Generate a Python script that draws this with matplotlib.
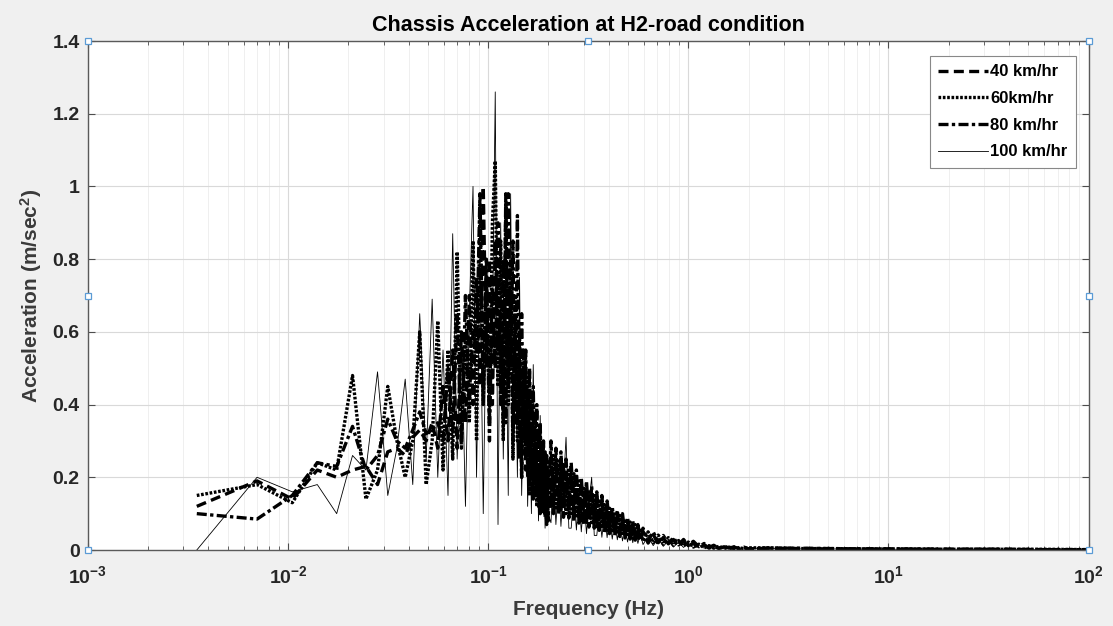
import numpy as np
import matplotlib
matplotlib.use("Agg")
import matplotlib.pyplot as plt

# frequency bins (Hz)
freq_low = [0.0035, 0.007, 0.0105, 0.014, 0.0175, 0.021, 0.0245, 0.028, 0.0315, 0.035,
            0.0385, 0.042, 0.0455, 0.049]
freq_mid = [0.0525, 0.056, 0.0595, 0.063, 0.0665, 0.07, 0.0735, 0.077, 0.0805, 0.084,
            0.0875, 0.091, 0.0945, 0.098, 0.1015, 0.105, 0.1085, 0.112, 0.1155, 0.119,
            0.1225, 0.126, 0.1295, 0.133, 0.1365, 0.14, 0.1435, 0.147, 0.1505, 0.154,
            0.1575, 0.161, 0.1645, 0.168, 0.1715, 0.175, 0.1785, 0.182, 0.1855, 0.189,
            0.1925, 0.196, 0.1995]
freq_high = [0.206, 0.212, 0.218, 0.225, 0.231, 0.238, 0.245, 0.253, 0.26, 0.268,
             0.276, 0.284, 0.292, 0.301, 0.31, 0.319, 0.329, 0.339, 0.349, 0.359,
             0.37, 0.381, 0.393, 0.404, 0.417, 0.429, 0.442, 0.455, 0.469, 0.483,
             0.497, 0.512, 0.528, 0.543, 0.56, 0.576, 0.594,
             0.63, 0.668, 0.708, 0.75, 0.795, 0.843, 0.894, 0.947, 1.0, 1.06,
             1.13, 1.2, 1.27, 1.34, 1.42, 1.51, 1.6, 1.7, 1.8, 1.9, 2.0]
freq_tail = [2.5, 3.5, 5, 8, 12, 20, 35, 60, 100]
freq = freq_low + freq_mid + freq_high + freq_tail

# acceleration (m/sec^2)
acc_40 = ([0.12, 0.19, 0.14, 0.22, 0.20, 0.22, 0.23, 0.18, 0.27, 0.28, 0.26, 0.31, 0.33, 0.30]
          + [0.35, 0.28, 0.45, 0.30, 0.55, 0.28, 0.60, 0.35, 0.70, 0.40, 0.75, 0.45, 1.00, 0.50,
             0.80, 0.40, 0.85, 0.55, 0.65, 0.35, 0.98, 0.45, 0.70, 0.30, 0.62, 0.35, 0.55, 0.20,
             0.50, 0.22, 0.44, 0.18, 0.40, 0.14, 0.36, 0.16, 0.30, 0.10, 0.28, 0.12, 0.24, 0.07, 0.22]
          + [0.255, 0.10, 0.24, 0.095, 0.23, 0.09, 0.21, 0.088, 0.20, 0.08, 0.19, 0.074, 0.17,
             0.066, 0.16, 0.063, 0.15, 0.06, 0.135, 0.054, 0.13, 0.049, 0.115, 0.045, 0.10, 0.04,
             0.094, 0.037, 0.085, 0.033, 0.077, 0.03, 0.068, 0.027, 0.06, 0.023, 0.051,
             0.019, 0.043, 0.016, 0.034, 0.013, 0.029, 0.011, 0.025, 0.009, 0.02, 0.007, 0.015,
             0.005, 0.011, 0.004, 0.009, 0.003, 0.008, 0.003, 0.007, 0.003]
          + [0.005, 0.004, 0.003, 0.003, 0.002, 0.002, 0.002, 0.001, 0.001])
acc_60 = ([0.15, 0.18, 0.13, 0.24, 0.22, 0.48, 0.14, 0.22, 0.45, 0.30, 0.20, 0.30, 0.60, 0.18]
          + [0.30, 0.63, 0.22, 0.55, 0.25, 0.82, 0.30, 0.60, 0.35, 0.85, 0.30, 0.95, 0.40, 0.75,
             0.35, 0.90, 1.07, 0.45, 0.85, 0.30, 0.95, 0.40, 0.80, 0.25, 0.70, 0.30, 0.60, 0.20,
             0.55, 0.25, 0.48, 0.15, 0.42, 0.20, 0.38, 0.12, 0.33, 0.15, 0.30, 0.10, 0.27, 0.08, 0.24]
          + [0.12, 0.26, 0.11, 0.245, 0.11, 0.235, 0.10, 0.225, 0.095, 0.21, 0.088, 0.19, 0.08,
             0.17, 0.076, 0.16, 0.07, 0.155, 0.064, 0.14, 0.06, 0.125, 0.054, 0.115, 0.048, 0.105,
             0.044, 0.095, 0.04, 0.085, 0.036, 0.077, 0.032, 0.07, 0.028, 0.06, 0.024,
             0.05, 0.02, 0.041, 0.016, 0.034, 0.013, 0.026, 0.011, 0.022, 0.008, 0.016, 0.006,
             0.012, 0.005, 0.01, 0.004, 0.008, 0.003, 0.007, 0.003, 0.006]
          + [0.006, 0.004, 0.004, 0.003, 0.003, 0.002, 0.002, 0.002, 0.001])
acc_80 = ([0.10, 0.085, 0.15, 0.24, 0.23, 0.34, 0.22, 0.26, 0.36, 0.30, 0.28, 0.33, 0.38, 0.32]
          + [0.33, 0.35, 0.30, 0.50, 0.32, 0.65, 0.28, 0.70, 0.40, 0.60, 0.55, 0.98, 0.45, 0.80,
             0.30, 0.75, 0.50, 0.90, 0.40, 0.80, 0.35, 0.98, 0.50, 0.85, 0.35, 0.92, 0.25, 0.65,
             0.30, 0.55, 0.20, 0.50, 0.18, 0.45, 0.15, 0.40, 0.12, 0.35, 0.10, 0.30, 0.09, 0.26, 0.08]
          + [0.30, 0.13, 0.28, 0.12, 0.27, 0.115, 0.25, 0.11, 0.24, 0.10, 0.22, 0.095, 0.20,
             0.085, 0.19, 0.08, 0.175, 0.075, 0.16, 0.07, 0.15, 0.063, 0.135, 0.058, 0.12, 0.052,
             0.11, 0.047, 0.10, 0.043, 0.09, 0.038, 0.08, 0.035, 0.07, 0.03, 0.06,
             0.025, 0.05, 0.02, 0.04, 0.017, 0.034, 0.014, 0.029, 0.012, 0.024, 0.009, 0.018,
             0.007, 0.013, 0.005, 0.011, 0.005, 0.009, 0.004, 0.008, 0.003]
          + [0.005, 0.005, 0.004, 0.003, 0.003, 0.002, 0.002, 0.001, 0.001])
acc_100 = ([0.00, 0.20, 0.16, 0.18, 0.10, 0.26, 0.22, 0.49, 0.15, 0.28, 0.47, 0.18, 0.65, 0.25]
           + [0.69, 0.20, 0.55, 0.15, 0.87, 0.25, 0.60, 0.12, 0.65, 1.00, 0.20, 0.80, 0.10, 0.70,
              0.35, 0.60, 1.26, 0.07, 0.90, 0.25, 0.70, 0.15, 0.98, 0.30, 0.60, 0.20, 0.75, 0.15,
              0.45, 0.54, 0.12, 0.40, 0.10, 0.51, 0.15, 0.30, 0.08, 0.37, 0.12, 0.25, 0.06, 0.22, 0.10]
           + [0.075, 0.22, 0.07, 0.19, 0.065, 0.18, 0.31, 0.06, 0.06, 0.16, 0.055, 0.15, 0.05,
              0.14, 0.045, 0.13, 0.20, 0.04, 0.04, 0.11, 0.035, 0.10, 0.034, 0.09, 0.03, 0.08,
              0.028, 0.075, 0.025, 0.065, 0.022, 0.06, 0.02, 0.054, 0.018, 0.045, 0.015,
              0.038, 0.012, 0.032, 0.01, 0.026, 0.008, 0.022, 0.007, 0.019, 0.006, 0.015, 0.005,
              0.011, 0.004, 0.008, 0.003, 0.007, 0.003, 0.006, 0.002, 0.005]
           + [0.004, 0.003, 0.003, 0.002, 0.002, 0.002, 0.001, 0.001, 0.001])

labels = ['40 km/hr', '60km/hr', '80 km/hr', '100 km/hr']

plt.rcParams['font.family'] = ['Liberation Sans', 'DejaVu Sans']
plt.rcParams['font.weight'] = 'bold'
plt.rcParams['mathtext.fontset'] = 'custom'
plt.rcParams['mathtext.rm'] = 'Liberation Sans:bold'
plt.rcParams['mathtext.bf'] = 'Liberation Sans:bold'
plt.rcParams['mathtext.default'] = 'bf'

fig = plt.figure(figsize=(11.13, 6.26), dpi=100, facecolor='#f0f0f0')
ax = fig.add_axes([0.079, 0.1214, 0.899, 0.8131])
ax.set_facecolor('white')

ax.plot(freq, acc_40, color='black', lw=2.4, ls=(0, (3, 1.6)), label=labels[0])
ax.plot(freq, acc_60, color='black', lw=2.4, ls=(0, (0.8, 0.5)), label=labels[1])
ax.plot(freq, acc_80, color='black', lw=2.4, ls=(0, (3, 1, 1, 1)), label=labels[2])
ax.plot(freq, acc_100, color='black', lw=0.6, ls='-', label=labels[3])

ax.set_xscale('log')
ax.set_xlim(1e-3, 1e2)
ax.set_ylim(0, 1.4)
ax.set_yticks([0, 0.2, 0.4, 0.6, 0.8, 1.0, 1.2, 1.4])
ax.set_yticklabels(['0', '0.2', '0.4', '0.6', '0.8', '1', '1.2', '1.4'])
ax.set_xticks([1e-3, 1e-2, 1e-1, 1e0, 1e1, 1e2])
ax.set_xticklabels([r'$10^{-3}$', r'$10^{-2}$', r'$10^{-1}$', r'$10^{0}$', r'$10^{1}$', r'$10^{2}$'])

ax.grid(True, which='major', color='#d9d9d9', lw=0.8)
ax.grid(True, which='minor', axis='x', color='#ececec', lw=0.6)
ax.tick_params(which='both', direction='in', top=True, right=True, colors='#4d4d4d',
               labelcolor='#262626')
ax.tick_params(which='major', length=5)
ax.tick_params(which='minor', length=3)
ax.tick_params(axis='x', pad=11, labelsize=14)
ax.tick_params(axis='y', pad=6, labelsize=14)
for sp in ax.spines.values():
    sp.set_color('#5a5a5a')
    sp.set_linewidth(1.0)

ax.set_title('Chassis Acceleration at H2-road condition', fontsize=15.5, fontweight='bold', pad=7)
ax.set_xlabel('Frequency (Hz)', fontsize=15, fontweight='bold', color='#3a3a3a', labelpad=9)
ax.set_ylabel(r'Acceleration (m/sec$^\mathbf{2}$)', fontsize=15, fontweight='bold',
              color='#3a3a3a', labelpad=6)

leg = ax.legend(loc='upper right', bbox_to_anchor=(0.987, 0.9705), borderaxespad=0,
                fontsize=12, handlelength=3.0, handletextpad=0.1, borderpad=0.5,
                labelspacing=0.7, fancybox=False, edgecolor='#888888', framealpha=1)
leg.get_frame().set_linewidth(0.8)
for t in leg.get_texts():
    t.set_fontweight('bold')

# selection handles on the axes box
hx = [0, 0.5, 1, 0, 1, 0, 0.5, 1]
hy = [1, 1, 1, 0.5, 0.5, 0, 0, 0]
ax.plot(hx, hy, ls='none', marker='s', ms=4, mfc='white', mec='#5b9bd5', mew=0.9,
        transform=ax.transAxes, clip_on=False, zorder=10)

fig.savefig('out.png', dpi=100, facecolor=fig.get_facecolor())
